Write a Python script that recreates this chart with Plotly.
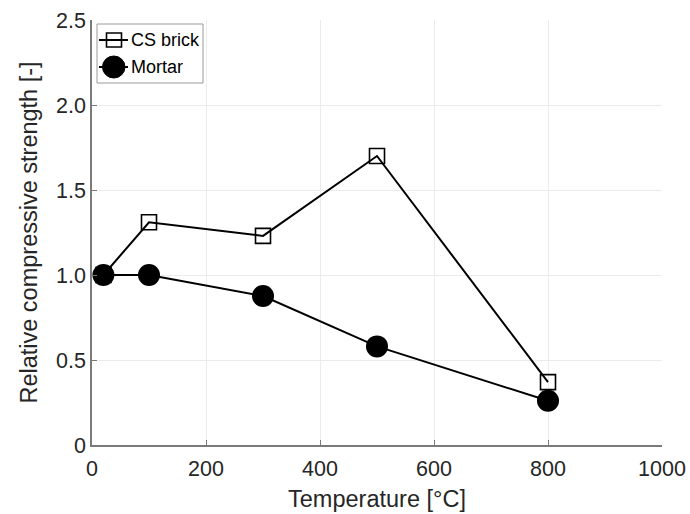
import plotly.graph_objects as go

# Temperature exposure levels [°C]
temperature = [20, 100, 300, 500, 800]
# Relative compressive strength after heating [-]
cs_brick = [1.0, 1.31, 1.23, 1.70, 0.37]
mortar = [1.0, 1.0, 0.876, 0.58, 0.26]

series_names = ["CS brick", "Mortar"]

x_ticks = [0, 200, 400, 600, 800, 1000]
y_ticks = [0, 0.5, 1.0, 1.5, 2.0, 2.5]
y_tick_text = ["0", "0.5", "1.0", "1.5", "2.0", "2.5"]

font_family = "Liberation Sans, Arial, sans-serif"
axis_color = "#7a7a7a"
text_color = "#262626"
grid_color = "#ebebeb"

fig = go.Figure()
fig.add_trace(go.Scatter(
    x=temperature, y=cs_brick, name=series_names[0], mode="lines+markers",
    line=dict(color="black", width=2),
    marker=dict(symbol="square-open", size=15, color="black", line=dict(width=1.6, color="black")),
    showlegend=False,
))
fig.add_trace(go.Scatter(
    x=temperature, y=mortar, name=series_names[1], mode="lines+markers",
    line=dict(color="black", width=2),
    marker=dict(symbol="circle", size=22, color="black"),
    showlegend=False,
))

# Legend box drawn with pixel-sized shapes anchored to the top-left corner of the axes
legend_shapes = [
    # frame
    dict(type="rect", xref="paper", yref="paper", xsizemode="pixel", ysizemode="pixel",
         xanchor=0, yanchor=1, x0=5, x1=111, y0=-63, y1=-4,
         line=dict(color="#9a9a9a", width=1), fillcolor="white", layer="above"),
    # CS brick sample: line + open square
    dict(type="line", xref="paper", yref="paper", xsizemode="pixel", ysizemode="pixel",
         xanchor=0, yanchor=1, x0=7, x1=36, y0=-20, y1=-20,
         line=dict(color="black", width=2), layer="above"),
    dict(type="rect", xref="paper", yref="paper", xsizemode="pixel", ysizemode="pixel",
         xanchor=0, yanchor=1, x0=14.5, x1=29.5, y0=-27, y1=-13,
         line=dict(color="black", width=1.6), fillcolor="rgba(0,0,0,0)", layer="above"),
    # Mortar sample: line + filled circle
    dict(type="line", xref="paper", yref="paper", xsizemode="pixel", ysizemode="pixel",
         xanchor=0, yanchor=1, x0=7, x1=36, y0=-47, y1=-47,
         line=dict(color="black", width=2), layer="above"),
    dict(type="circle", xref="paper", yref="paper", xsizemode="pixel", ysizemode="pixel",
         xanchor=0, yanchor=1, x0=10.5, x1=33, y0=-58, y1=-36,
         line=dict(color="black", width=1), fillcolor="black", layer="above"),
]

legend_labels = [
    dict(text=series_names[0], xref="paper", yref="paper", x=0, y=1, xshift=37, yshift=-20,
         xanchor="left", yanchor="middle", showarrow=False,
         font=dict(size=18, color="black", family=font_family)),
    dict(text=series_names[1], xref="paper", yref="paper", x=0, y=1, xshift=37, yshift=-47,
         xanchor="left", yanchor="middle", showarrow=False,
         font=dict(size=18, color="black", family=font_family)),
]

fig.update_layout(
    width=690, height=514,
    margin=dict(l=92, r=28, t=20, b=69, autoexpand=False),
    paper_bgcolor="white", plot_bgcolor="white",
    font=dict(family=font_family, color=text_color, size=21.5),
    showlegend=False,
    shapes=legend_shapes,
    annotations=legend_labels,
)
fig.update_xaxes(
    range=[0, 1000], tickvals=x_ticks, automargin=False, ticklabelstandoff=3,
    title=dict(text="Temperature [°C]", standoff=11, font=dict(size=23.5)),
    showgrid=True, gridcolor=grid_color, gridwidth=1,
    showline=True, linecolor=axis_color, linewidth=1.5,
    ticks="inside", ticklen=5, tickcolor=axis_color,
    zeroline=False, tickfont=dict(size=21.5, color=text_color),
)
fig.update_yaxes(
    range=[0, 2.5], tickvals=y_ticks, ticktext=y_tick_text, automargin=False,
    title=dict(text="Relative compressive strength [-]", standoff=12, font=dict(size=23.5)),
    showgrid=True, gridcolor=grid_color, gridwidth=1,
    showline=True, linecolor=axis_color, linewidth=1.5,
    ticks="inside", ticklen=5, tickcolor=axis_color,
    zeroline=False, tickfont=dict(size=21.5, color=text_color),
)

fig.write_html("out.html")
